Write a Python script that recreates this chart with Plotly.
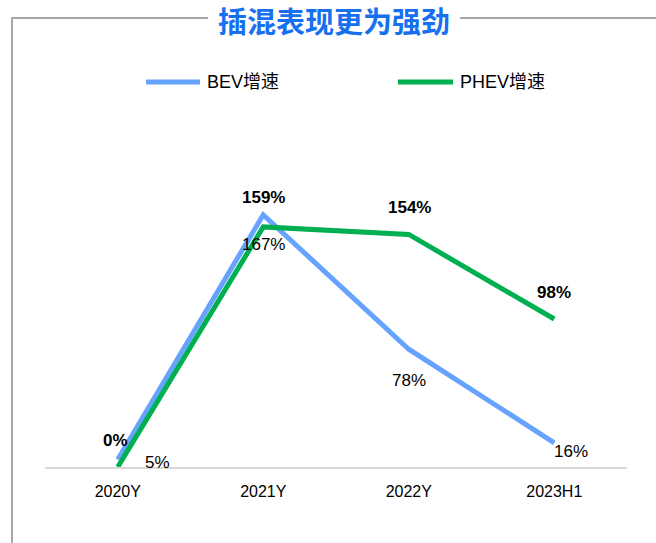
import plotly.graph_objects as go

categories = ["2020Y", "2021Y", "2022Y", "2023H1"]
bev_values = [5, 167, 78, 16]
phev_values = [0, 159, 154, 98]
bev_labels = ["5%", "167%", "78%", "16%"]
phev_labels = ["0%", "159%", "154%", "98%"]
series_names = ["BEV增速", "PHEV增速"]

BEV_COLOR = "#66A3FF"
PHEV_COLOR = "#00B050"
W, H = 656, 543
L, R, T, B = 45, 29, 100, 76
PLOT_W = W - L - R
PLOT_H = H - T - B

def px_x(px):
    return (px - L) / PLOT_W

def px_y(py):
    return (H - B - py) / PLOT_H

fig = go.Figure()
fig.add_trace(go.Scatter(x=categories, y=bev_values, mode="lines", name=series_names[0],
                         line=dict(color=BEV_COLOR, width=5), cliponaxis=False, showlegend=False))
fig.add_trace(go.Scatter(x=categories, y=phev_values, mode="lines", name=series_names[1],
                         line=dict(color=PHEV_COLOR, width=5), cliponaxis=False, showlegend=False))

annos = []
phev_off = [(-2, 27), (0, 29), (1, 27), (0, 27)]
bev_off = [(40, -3), (0, -30), (0, -31), (17, -9)]
for c, v, t, (dx, dy) in zip(categories, phev_values, phev_labels, phev_off):
    annos.append(dict(x=c, y=v, text="<b>" + t + "</b>", showarrow=False, xshift=dx, yshift=dy,
                      font=dict(family="Liberation Sans, Arial", size=17, color="#000")))
for c, v, t, (dx, dy) in zip(categories, bev_values, bev_labels, bev_off):
    annos.append(dict(x=c, y=v, text=t, showarrow=False, xshift=dx, yshift=dy,
                      font=dict(family="Liberation Sans, Arial", size=17, color="#000")))

annos.append(dict(xref="paper", yref="paper", x=px_x(334), y=px_y(20), text="<b>插混表现更为强劲</b>",
                  showarrow=False, xanchor="center", yanchor="middle",
                  font=dict(family="Noto Sans CJK SC", size=29, color="#1670F0")))

frame = dict(color="#A6A6A6", width=2)
shapes = [
    dict(type="line", xref="paper", yref="paper", x0=px_x(11), x1=px_x(208), y0=px_y(18), y1=px_y(18), line=frame),
    dict(type="line", xref="paper", yref="paper", x0=px_x(460), x1=px_x(657), y0=px_y(18), y1=px_y(18), line=frame),
    dict(type="line", xref="paper", yref="paper", x0=px_x(12), x1=px_x(12), y0=px_y(18), y1=px_y(544), line=frame),
]

# legend (drawn manually to match the long legend keys)
legend_pos = [(146, 200, 205), (398, 453, 458)]
for name, color, (lx0, lx1, tx) in zip(series_names, [BEV_COLOR, PHEV_COLOR], legend_pos):
    shapes.append(dict(type="line", xref="paper", yref="paper", x0=px_x(lx0), x1=px_x(lx1),
                       y0=px_y(82), y1=px_y(82), line=dict(color=color, width=5)))
    annos.append(dict(xref="paper", yref="paper", x=px_x(tx), y=px_y(82), text=name,
                      showarrow=False, xanchor="left", yanchor="middle",
                      font=dict(family="Liberation Sans, Noto Sans CJK SC", size=18, color="#000")))

fig.update_layout(
    width=W, height=H,
    margin=dict(l=L, r=R, t=T, b=B),
    paper_bgcolor="white", plot_bgcolor="white",
    showlegend=False,
    xaxis=dict(type="category", range=[-0.5, 3.5], showgrid=False, zeroline=False,
               showline=True, linecolor="#D9D9D9", linewidth=2, ticks="",
               ticklabelstandoff=9,
               tickfont=dict(family="Liberation Sans, Arial", size=16, color="#000"),
               fixedrange=True),
    yaxis=dict(range=[0, PLOT_H / 1.51], showgrid=False, zeroline=False, showline=False,
               showticklabels=False, fixedrange=True),
    annotations=annos,
    shapes=shapes,
)

fig.write_html("out.html", config={"displayModeBar": False},
               post_script="document.body.style.margin='0';document.body.style.overflow='hidden';")
